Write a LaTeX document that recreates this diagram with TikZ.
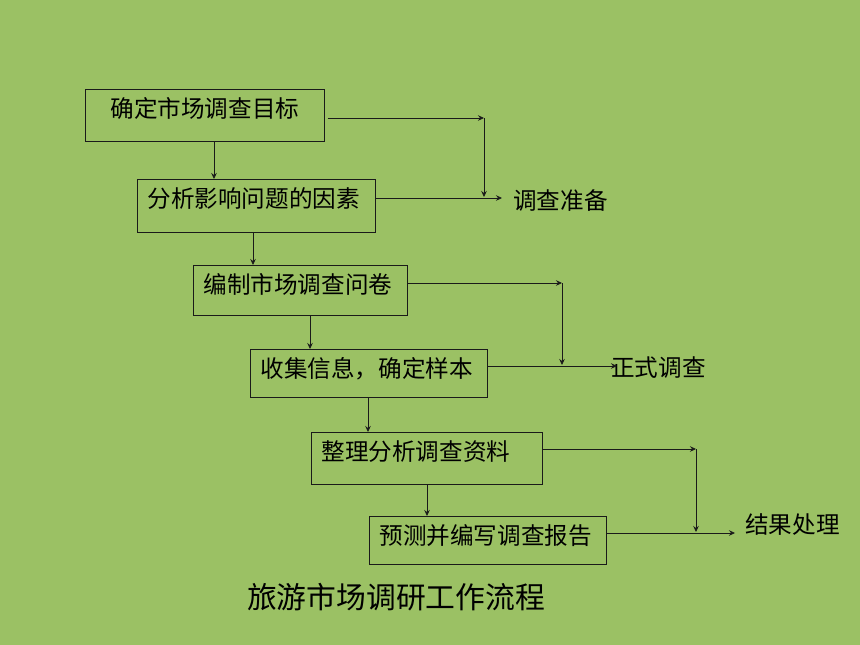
\documentclass[tikz,border=0pt]{standalone}
\usepackage{fontspec}
\setmainfont{Noto Sans CJK SC}
\usepackage{tikz}
\usetikzlibrary{arrows.meta}
\tikzset{>={Stealth[length=6pt, width=5.5pt, inset=2pt]}}
\usetikzlibrary{calc}
\definecolor{slide}{HTML}{9BC164}
\definecolor{ink}{HTML}{1A1A1A}
\tikzset{
    stage/.style={draw=ink, line width=0.9pt, anchor=north west, inner xsep=10pt, inner ysep=0pt,
        text height=28pt, text depth=#1, align=left, font=\fontsize{23.6}{28}\selectfont},
    stage/.default=24pt,
    outcome/.style={anchor=west, inner sep=0pt, font=\fontsize{23.6}{28}\selectfont},
    flow/.style={->, draw=ink, line width=0.8pt}
}

\begin{document}
\begin{tikzpicture}[x=1pt, y=-1pt]
                \fill[slide] (0, 0) rectangle (860, 645);
                \node[stage, text width=219pt, align=center] (goal) at (85, 89) {确定市场调查目标};
                \node[stage=25pt, text width=218pt] (factors) at (137, 179) {分析影响问题的因素};
                \node[stage=22pt, text width=194pt] (survey) at (193, 265) {编制市场调查问卷};
                \node[stage=20pt, text width=217pt] (collect) at (250, 349) {收集信息，确定样本};
                \node[stage, text width=211pt] (sort) at (311, 432) {整理分析调查资料};
                \node[stage=20pt, text width=217pt] (report) at (369, 516) {预测并编写调查报告};
                \foreach \a/\b/\x in {goal/factors/214, factors/survey/253, survey/collect/310, collect/sort/368, sort/report/427} {
                    \coordinate (d) at (\x, 0);
                    \draw[flow] (\a.south -| d) -- (\b.north -| d);
                }
                \node[outcome] (prep) at (513, 200) {调查准备};
                \node[outcome] (formal) at (611, 368) {正式调查};
                \node[outcome] (result) at (745, 525) {结果处理};
                \coordinate (j1) at (484, 118);
                \coordinate (e1) at (502, 198);
                \draw[flow, shorten <=3pt] (goal.east |- j1) -- (j1);
                \draw[flow, shorten >=1pt] (j1) -- (j1 |- e1);
                \draw[flow] (factors.east |- e1) -- (e1);
                \coordinate (j2) at (562, 283);
                \coordinate (e2) at (617, 366);
                \draw[flow] (survey.east |- j2) -- (j2);
                \draw[flow, shorten >=1pt] (j2) -- (j2 |- e2);
                \draw[flow] (collect.east |- e2) -- (e2);
                \coordinate (j3) at (696, 449);
                \coordinate (e3) at (735, 533);
                \draw[flow] (sort.east |- j3) -- (j3);
                \draw[flow, shorten >=1pt] (j3) -- (j3 |- e3);
                \draw[flow] (report.east |- e3) -- (e3);
                \node[font=\fontsize{29.8}{34}\selectfont] (title) at (396, 597) {旅游市场调研工作流程};
\end{tikzpicture}
\end{document}
